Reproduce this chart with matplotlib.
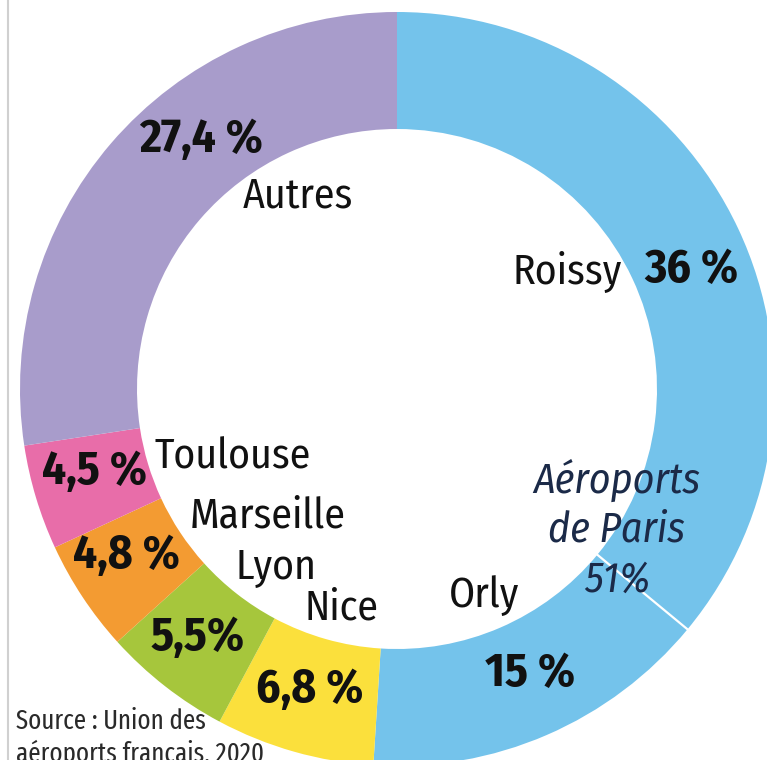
#!python
# donut chart: passenger share by airport

import numpy as np
import matplotlib.pyplot as plt

names = ['Roissy', 'Orly', 'Nice', 'Lyon', 'Marseille', 'Toulouse', 'Autres']
shares = [36, 15, 6.8, 5.5, 4.8, 4.5, 27.4]
pct_labels = ['36 %', '15 %', '6,8 %', '5,5%', '4,8 %', '4,5 %', '27,4 %']
colors = ['#74C3EB', '#74C3EB', '#FBE03C', '#A6C63C', '#F39B32', '#E86DA9', '#A89CCB']

plt.rcParams['font.family'] = ['Fira Sans Condensed', 'Roboto Condensed', 'DejaVu Sans']

W, H = 767, 760
fig = plt.figure(figsize=(W / 100, H / 100), dpi=100)
ax = fig.add_axes([0, 0, 1, 1])

cx, cy, r_out, r_in = 397, H - 389, 377, 260
ax.pie(shares, colors=colors, startangle=90, counterclock=False,
       center=(cx, cy), radius=r_out,
       wedgeprops=dict(width=r_out - r_in, edgecolor='none', linewidth=0))

# thin white line between Roissy and Orly
a = np.deg2rad(90 - 360 * shares[0] / 100)
ax.plot([cx + r_in * np.cos(a), cx + r_out * np.cos(a)],
        [cy + r_in * np.sin(a), cy + r_out * np.sin(a)], color='white', lw=1.6)

ax.set_xlim(0, W)
ax.set_ylim(0, H)
ax.set_aspect('equal')
ax.axis('off')


def txt(x, y, s, **kw):
    ax.text(x, H - y, s, ha='center', va='center', **kw)


# percentages (bold)
pct_pos = [(691, 270), (530, 674), (310, 690), (198, 638), (126, 556), (95, 472), (201, 140)]
for (x, y), s in zip(pct_pos, pct_labels):
    txt(x, y, s, fontsize=34, fontweight='bold', color='#111111')

# names (regular)
name_pos = [(567, 272), (484, 596), (342, 608), (276, 568), (268, 516), (233, 457), (298, 196)]
for (x, y), s in zip(name_pos, names):
    txt(x, y, s, fontsize=30, color='#111111')

for y, s in [(480, 'Aéroports'), (530, 'de Paris'), (580, '51%')]:
    txt(617, y, s, fontsize=30, style='italic', color='#1B2A48')

src = ['Fira Sans Extra Condensed', 'Fira Sans Condensed', 'DejaVu Sans']
ax.text(16, H - 721, 'Source : Union des', ha='left', va='center', fontsize=19.5,
        family=src, color='#2a2a2a')
ax.text(16, H - 754, 'aéroports français, 2020', ha='left', va='center', fontsize=19.5,
        family=src, color='#2a2a2a')

# frame line on the left
fig.add_artist(plt.Line2D([8 / W, 8 / W], [0, 1], color='#d0d0d0', lw=1.5))

plt.savefig('out.png', dpi=100)
